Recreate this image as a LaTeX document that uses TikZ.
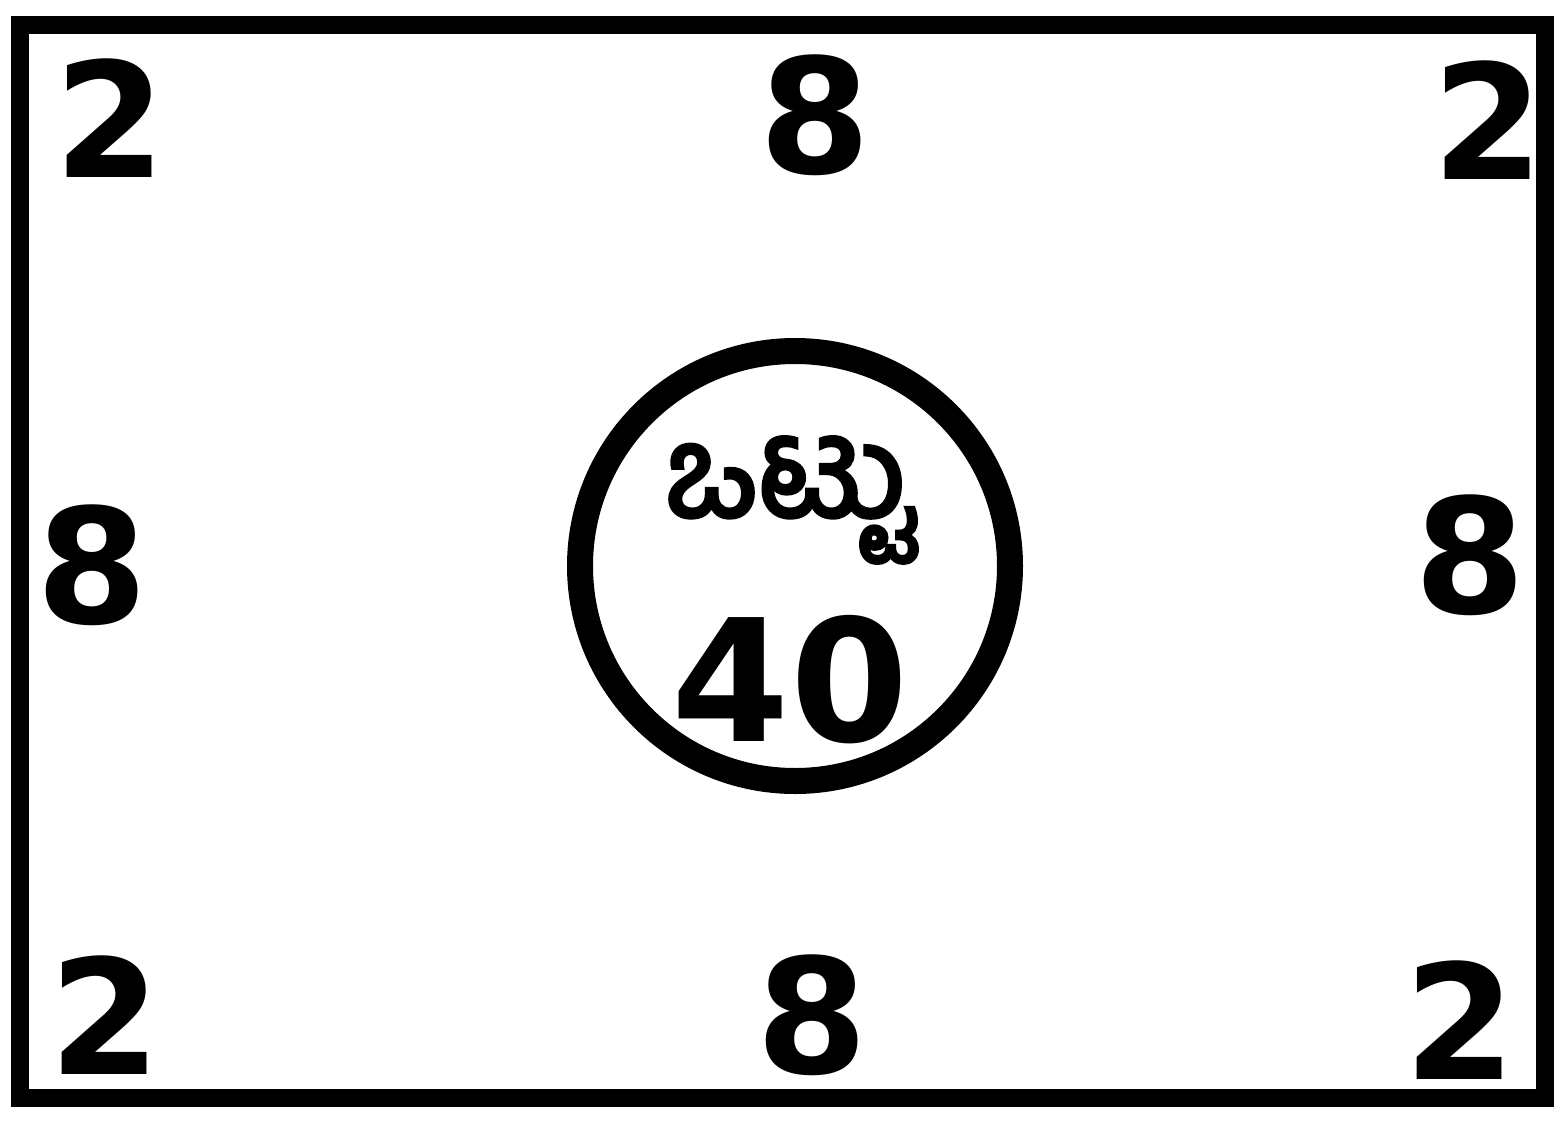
\documentclass[tikz,border=0pt]{standalone}
\usepackage{fontspec}
\setmainfont{DejaVu Sans}
\newfontfamily\knfont[Script=Kannada,FakeBold=3]{Hind Mysuru}
\begin{document}
\begin{tikzpicture}[x=1pt,y=-1pt,
  num/.style={font=\bfseries\fontsize{160}{160}\selectfont, inner sep=0pt},
  frame/.style={draw=black, line width=18pt},
  ring/.style={draw=black, line width=26pt}]
\useasboundingbox[fill=white] (0,0) rectangle (1564,1130);
\draw[frame] (20,25) rectangle (1545,1098);
\node[ring, circle, minimum size=430pt, inner sep=0pt] (c) at (795,566) {};
\node[inner sep=0pt, font=\knfont\fontsize{128}{128}\selectfont] (t) at (790,500) {ಒಟ್ಟು};
\node[num, font=\bfseries\fontsize{170}{170}\selectfont] (n40) at (790,680) {40};
\node[num] (tl) at (110,118) {2};
\node[num] (tc) at (815,115) {8};
\node[num] (tr) at (1488,120) {2};
\node[num] (ml) at (92,565) {8};
\node[num] (mr) at (1470,555) {8};
\node[num] (bl) at (105,1015) {2};
\node[num] (bc) at (812,1015) {8};
\node[num] (br) at (1460,1020) {2};
\end{tikzpicture}
\end{document}
